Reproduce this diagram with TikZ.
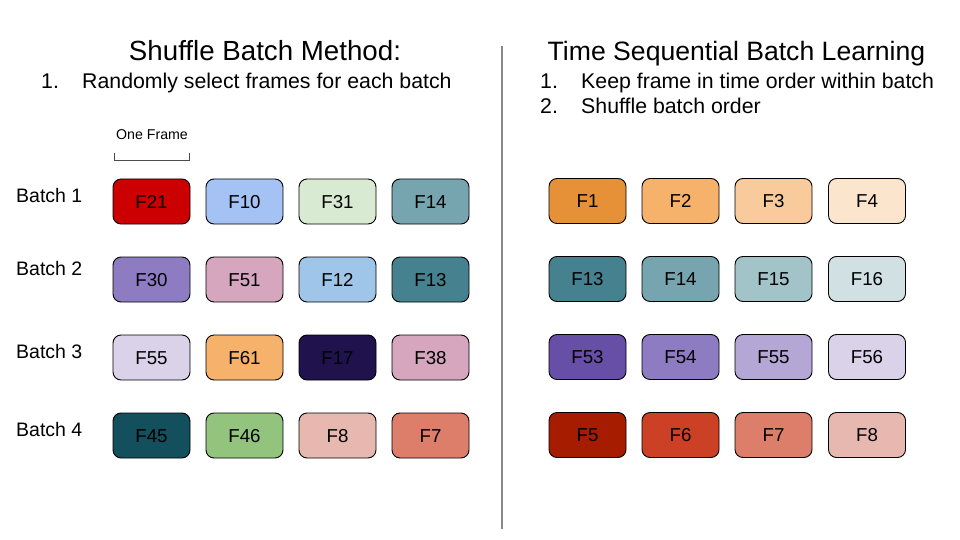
\documentclass[tikz,border=0pt]{standalone}
\usepackage{fontspec}
\setmainfont{Liberation Sans}
\definecolor{cF21}{HTML}{CC0000}
\definecolor{cF10}{HTML}{A4C2F4}
\definecolor{cF31}{HTML}{D9EAD3}
\definecolor{cF14}{HTML}{76A5AF}
\definecolor{cF30}{HTML}{8E7CC3}
\definecolor{cF51}{HTML}{D5A6BD}
\definecolor{cF12}{HTML}{9FC5E8}
\definecolor{cF13}{HTML}{45818E}
\definecolor{cF55}{HTML}{D9D2E9}
\definecolor{cF61}{HTML}{F6B26B}
\definecolor{cF17}{HTML}{20124D}
\definecolor{cF38}{HTML}{D5A6BD}
\definecolor{cF45}{HTML}{134F5C}
\definecolor{cF46}{HTML}{93C47D}
\definecolor{cF8}{HTML}{E6B8AF}
\definecolor{cF7}{HTML}{DD7E6B}
\definecolor{cF1}{HTML}{E69138}
\definecolor{cF2}{HTML}{F6B26B}
\definecolor{cF3}{HTML}{F9CB9C}
\definecolor{cF4}{HTML}{FCE5CD}
\definecolor{cF15}{HTML}{A2C4C9}
\definecolor{cF16}{HTML}{D0E0E3}
\definecolor{cF53}{HTML}{674EA7}
\definecolor{cF54}{HTML}{8E7CC3}
\definecolor{cF56}{HTML}{B4A7D6}
\definecolor{cF5}{HTML}{A61C00}
\definecolor{cF6}{HTML}{CC4125}
\definecolor{divider}{HTML}{888888}
\tikzset{
  frame/.style={draw=black, line width=0.9pt, rounded corners=8pt, minimum width=77pt, minimum height=45pt, inner sep=0pt, text height=13.4pt, text depth=0pt, font=\fontsize{18.7}{21}\selectfont},
  title/.style={anchor=base, inner sep=0pt},
  item/.style={font=\fontsize{21.3}{25}\selectfont, anchor=base west, inner sep=0pt},
  batchlbl/.style={font=\fontsize{19.5}{23}\selectfont, anchor=base west, inner sep=0pt},
}
\begin{document}
\begin{tikzpicture}[x=1pt, y=-1pt]
\useasboundingbox (0,0) rectangle (960,540);
% titles
\node[title, font=\fontsize{27.7}{32}\selectfont] (t1) at (265,61) {Shuffle Batch Method:};
\node[item] (n1) at (41,88.5) {1.};
\node[item] (l1) at (82,88.5) {Randomly select frames for each batch};
\node[title, font=\fontsize{26.6}{32}\selectfont] (t2) at (736.5,61) {Time Sequential Batch Learning};
\node[item] (n2) at (540,88.5) {1.};
\node[item] (l2) at (581,88.5) {Keep frame in time order within batch};
\node[item] (n3) at (540,114) {2.};
\node[item] (l3) at (581,114) {Shuffle batch order};
% divider
\coordinate (dtop) at (502,46);
\coordinate (dbot) at (502,529);
\draw[divider, line width=2pt] (dtop) -- (dbot);
% one frame bracket
\node[font=\fontsize{14.2}{17}\selectfont, anchor=base, inner sep=0pt] (of) at (152,140) {One Frame};
\coordinate (b1) at (114.5,153);
\coordinate (b2) at (114.5,160);
\coordinate (b3) at (189.5,160);
\coordinate (b4) at (189.5,153);
\draw[black!70, line width=0.8pt] (b1) -- (b2) -- (b3) -- (b4);
% batch labels
\node[batchlbl] (bl1) at (16,202.3) {Batch 1};
\node[batchlbl] (bl2) at (16,275) {Batch 2};
\node[batchlbl] (bl3) at (16,358) {Batch 3};
\node[batchlbl] (bl4) at (16,436) {Batch 4};
% left grid
\foreach \name/\col/\cx/\cy in {
  F21/cF21/151.5/201.5, F10/cF10/244.5/201.5, F31/cF31/337.5/201.5, F14/cF14/430.5/201.5,
  F30/cF30/151.5/279.5, F51/cF51/244.5/279.5, F12/cF12/337.5/279.5, F13/cF13/430.5/279.5,
  F55/cF55/151.5/357.5, F61/cF61/244.5/357.5, F17/cF17/337.5/357.5, F38/cF38/430.5/357.5,
  F45/cF45/151.5/435.5, F46/cF46/244.5/435.5, F8/cF8/337.5/435.5, F7/cF7/430.5/435.5}
  \node[frame, fill=\col] (L\name) at (\cx,\cy) {\name};
% right grid
\foreach \name/\col/\cx/\cy in {
  F1/cF1/587.5/201, F2/cF2/680.5/201, F3/cF3/773.5/201, F4/cF4/867/201,
  F13/cF13/587.5/279, F14/cF14/680.5/279, F15/cF15/773.5/279, F16/cF16/867/279,
  F53/cF53/587.5/357, F54/cF54/680.5/357, F55/cF56/773.5/357, F56/cF55/867/357,
  F5/cF5/587.5/435, F6/cF6/680.5/435, F7/cF7/773.5/435, F8/cF8/867/435}
  \node[frame, fill=\col] (R\name) at (\cx,\cy) {\name};
\end{tikzpicture}
\end{document}
